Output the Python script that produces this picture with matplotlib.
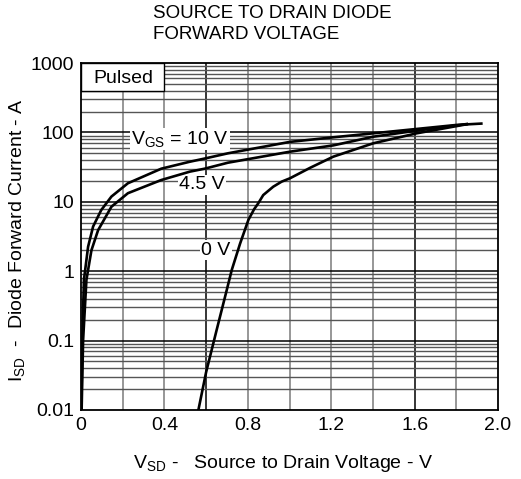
import numpy as np
import matplotlib
matplotlib.use("Agg")
import matplotlib.pyplot as plt
from matplotlib.patches import Rectangle

plt.rcParams["font.family"] = ["Liberation Sans", "DejaVu Sans"]
plt.rcParams["mathtext.fontset"] = "custom"
plt.rcParams["mathtext.rm"] = "Liberation Sans"

# ── data (V, A) ─────────────────────────────────────────────────
v_10 = [0.002, 0.006, 0.014, 0.034, 0.058, 0.097, 0.146, 0.225, 0.385,
        0.522, 0.593, 0.705, 1.002, 1.21, 1.402, 1.80, 1.92]
i_10 = [0.01, 0.1, 0.75, 2.25, 4.4, 7.6, 11.9, 18.5, 30,
        37.8, 42, 50, 73, 85, 97, 128, 134]

v_45 = [0.003, 0.010, 0.026, 0.050, 0.082, 0.146, 0.225, 0.385, 0.522,
        0.593, 0.705, 1.002, 1.21, 1.402, 1.61, 1.85]
i_45 = [0.01, 0.1, 0.75, 2.0, 3.9, 8.5, 13.3, 20.6, 27.2,
        30, 36.6, 52.7, 65, 86.7, 106, 132]

v_0 = [0.563, 0.60, 0.65, 0.70, 0.723, 0.763, 0.803, 0.83, 0.85, 0.874,
       0.922, 0.962, 1.002, 1.10, 1.21, 1.402, 1.61, 1.80, 1.85]
i_0 = [0.01, 0.035, 0.14, 0.55, 1.04, 2.5, 5.5, 7.8, 9.5, 12.5,
       16.5, 19.5, 21.8, 31, 44.7, 69.7, 97, 123, 131]

x_ticks = [0, 0.4, 0.8, 1.2, 1.6, 2.0]
x_labels = ["0", "0.4", "0.8", "1.2", "1.6", "2.0"]
y_ticks = [0.01, 0.1, 1, 10, 100, 1000]
y_labels = ["0.01", "0.1", "1", "10", "100", "1000"]

FS = 14

fig = plt.figure(figsize=(5.21, 4.79), dpi=100)
ax = fig.add_axes([81/521, 1-410/479, 417/521, 347/479])

ax.set_xscale("linear")
ax.set_yscale("log")
ax.set_xlim(0, 2.0)
ax.set_ylim(0.01, 1000)

# grid: verticals every 0.2, log minors 2..9
dark_v = [0.6, 1.6]
for xv in np.arange(0.2, 2.0, 0.2):
    c = "black" if any(abs(xv - d) < 1e-6 for d in dark_v) else "#7a7a7a"
    ax.axvline(xv, color=c, lw=1.1, zorder=1)
for d in range(-2, 3):
    for k in range(2, 10):
        ax.axhline(k * 10.0**d, color="#555555", lw=1.0, zorder=1)
for yv in y_ticks[1:-1]:
    ax.axhline(yv, color="black", lw=1.1, zorder=1)

ax.plot(v_10, i_10, color="black", lw=1.9, zorder=4)
ax.plot(v_45, i_45, color="black", lw=1.9, zorder=4)
ax.plot(v_0, i_0, color="black", lw=1.9, zorder=4)

# "Pulsed" box
ax.add_patch(Rectangle((0, 400), 0.4, 600, facecolor="white",
                       edgecolor="black", lw=1.0, zorder=3))
ax.text(0.205, 590, "Pulsed", ha="center", va="center", fontsize=FS, zorder=5)

bb = dict(facecolor="white", edgecolor="none", pad=1.0)
ax.text(0.475, 80, r"V$\mathregular{_{GS}}$ = 10 V", ha="center", va="center",
        fontsize=FS, bbox=bb, zorder=3)
ax.text(0.58, 17.5, "4.5 V", ha="center", va="center", fontsize=FS,
        bbox=bb, zorder=3)
ax.text(0.647, 2.0, "0 V", ha="center", va="center", fontsize=FS,
        bbox=bb, zorder=3)

ax.set_xticks(x_ticks)
ax.set_xticklabels(x_labels, fontsize=FS)
ax.set_yticks(y_ticks)
ax.set_yticklabels(y_labels, fontsize=FS)
ax.minorticks_off()
ax.tick_params(length=0, pad=5)
for s in ax.spines.values():
    s.set_linewidth(1.3)
    s.set_zorder(6)

fig.text(153/521, 1-18/479, "SOURCE TO DRAIN DIODE", fontsize=13.5,
         ha="left", va="baseline")
fig.text(153/521, 1-39/479, "FORWARD VOLTAGE", fontsize=13.5,
         ha="left", va="baseline")

fig.text(17/521, 1-240/479, r"I$\mathregular{_{SD}}$  -  Diode Forward Current - A",
         rotation=90, ha="center", va="center", fontsize=FS)
fig.text(283/521, 1-468/479, r"V$\mathregular{_{SD}}$ -   Source to Drain Voltage - V",
         ha="center", va="baseline", fontsize=FS)

plt.savefig("out.png", dpi=100, facecolor="white")
